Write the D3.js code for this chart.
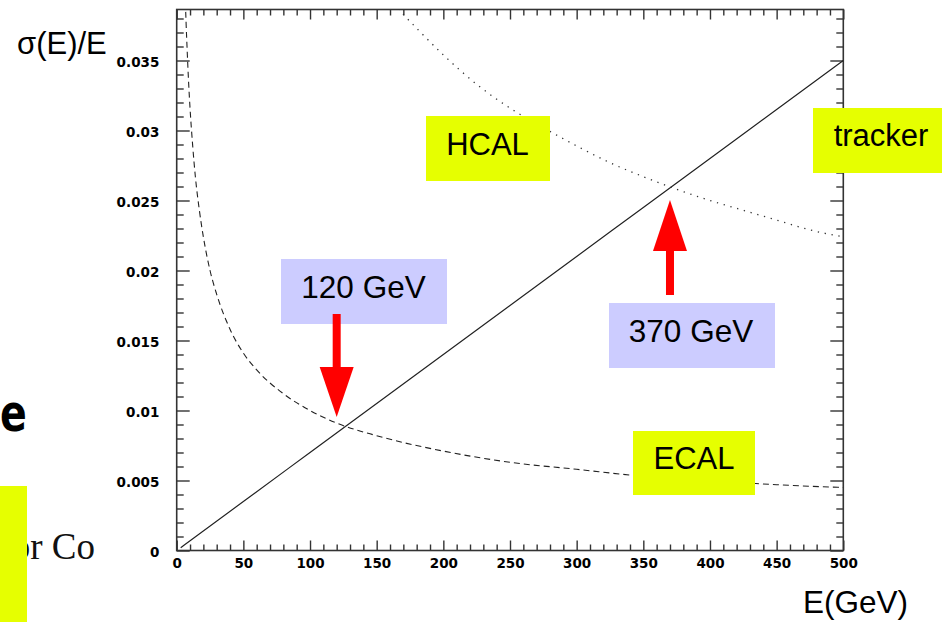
<!DOCTYPE html>
<html>
<head>
<meta charset="utf-8">
<script src="https://cdn.jsdelivr.net/npm/d3@7"></script>
<style>
  body { margin: 0; background: #fff; }
  svg { display: block; }
</style>
</head>
<body>
<svg id="chart" width="942" height="622"></svg>
<script>
// Energy resolution sigma(E)/E versus energy E (GeV) for each subdetector.
const trackerE   = [3, 50, 100, 150, 200, 250, 300, 350, 400, 450, 500];
const trackerRes = [0.0002, 0.0035, 0.0070, 0.0105, 0.0140, 0.0175, 0.0210, 0.0245, 0.0280, 0.0315, 0.0350];

const ecalE   = [6.5, 7, 8, 9, 10, 12, 14, 17, 20, 25, 30, 40, 50, 60, 80, 100, 120, 150, 200, 250, 300, 350, 400, 450, 500];
const ecalRes = [0.0392, 0.0378, 0.0354, 0.0333, 0.0316, 0.0289, 0.0267, 0.0243, 0.0224, 0.0200, 0.0183, 0.0158,
                 0.0141, 0.0129, 0.0112, 0.0100, 0.0091, 0.0082, 0.0071, 0.0063, 0.0058, 0.0053, 0.0050, 0.0047, 0.0045];

const hcalE   = [160, 170, 180, 200, 225, 250, 275, 300, 325, 350, 375, 400, 425, 450, 475, 500];
const hcalRes = [0.0395, 0.0383, 0.0373, 0.0354, 0.0333, 0.0316, 0.0302, 0.0289, 0.0277, 0.0267, 0.0258,
                 0.0250, 0.0243, 0.0236, 0.0229, 0.0224];

// Axis ticks
const xMajorTicks  = [0, 50, 100, 150, 200, 250, 300, 350, 400, 450, 500];
const xTickLabels  = ["0", "50", "100", "150", "200", "250", "300", "350", "400", "450", "500"];
const yMajorTicks  = [0, 0.005, 0.01, 0.015, 0.02, 0.025, 0.03, 0.035];
const yTickLabels  = ["0", "0.005", "0.01", "0.015", "0.02", "0.025", "0.03", "0.035"];
const xMinorStep = 10;
const yMinorStep = 0.001;

// Crossing energies marked with arrows
const crossingE      = [120, 370];
const crossingLabels = ["120 GeV", "370 GeV"];

// Detector name tags
const detectorLabels = ["HCAL", "tracker", "ECAL"];

const svg = d3.select("#chart");
const plot = { left: 176.7, right: 843.3, top: 9.5, bottom: 550.5 };
const yMax = (plot.bottom - plot.top) / 14000;

const x = d3.scaleLinear().domain([0, 500]).range([plot.left, plot.right]);
const y = d3.scaleLinear().domain([0, yMax]).range([plot.bottom, plot.top]);

const xMinor = d3.range(0, 500 + 1e-9, xMinorStep).filter(v => v % 50 !== 0);
const yMinor = d3.range(0, yMax, yMinorStep).map(v => +v.toFixed(4))
  .filter(v => Math.abs(v / 0.005 - Math.round(v / 0.005)) > 1e-6);

const tickFont = "'DejaVu Sans', sans-serif";
const frameColor = "#333";

// Left-side fragments of the surrounding page
svg.append("text")
  .attr("transform", "translate(0,431) scale(0.76,1)")
  .attr("font-family", "'DejaVu Sans', sans-serif").attr("font-weight", "bold")
  .attr("font-size", 52).attr("fill", "#000")
  .text("e");
svg.append("text")
  .attr("x", 95).attr("y", 559).attr("text-anchor", "end")
  .attr("font-family", "'Liberation Serif', 'Times New Roman', serif")
  .attr("font-size", 37).attr("fill", "#111")
  .text("or Co");
svg.append("rect")
  .attr("x", 0).attr("y", 486).attr("width", 27).attr("height", 136)
  .attr("fill", "#e6ff00");

// Axes: inward ticks on all four sides
function styleAxis(g) {
  g.select(".domain").remove();
  g.selectAll(".tick line").attr("stroke", frameColor).attr("stroke-width", 1.4);
}

svg.append("g").attr("transform", `translate(0,${plot.bottom})`)
  .call(d3.axisBottom(x).tickValues(xMinor).tickSizeInner(-6).tickSizeOuter(0).tickFormat(""))
  .call(styleAxis);
svg.append("g").attr("transform", `translate(0,${plot.bottom})`)
  .call(d3.axisBottom(x).tickValues(xMajorTicks).tickSizeInner(-10).tickSizeOuter(0).tickPadding(8)
    .tickFormat((d, i) => xTickLabels[i]))
  .call(styleAxis)
  .call(g => g.selectAll("text").attr("font-family", tickFont).attr("font-weight", "bold")
    .attr("font-size", 13.5).attr("fill", "#000"));

svg.append("g").attr("transform", `translate(0,${plot.top})`)
  .call(d3.axisTop(x).tickValues(xMinor).tickSizeInner(-6).tickSizeOuter(0).tickFormat(""))
  .call(styleAxis);
svg.append("g").attr("transform", `translate(0,${plot.top})`)
  .call(d3.axisTop(x).tickValues(xMajorTicks).tickSizeInner(-10).tickSizeOuter(0).tickFormat(""))
  .call(styleAxis);

svg.append("g").attr("transform", `translate(${plot.left},0)`)
  .call(d3.axisLeft(y).tickValues(yMinor).tickSizeInner(-7).tickSizeOuter(0).tickFormat(""))
  .call(styleAxis);
svg.append("g").attr("transform", `translate(${plot.left},0)`)
  .call(d3.axisLeft(y).tickValues(yMajorTicks).tickSizeInner(-13).tickSizeOuter(0).tickPadding(17.4)
    .tickFormat((d, i) => yTickLabels[i]))
  .call(styleAxis)
  .call(g => g.selectAll("text").attr("font-family", tickFont).attr("font-weight", "bold")
    .attr("font-size", 13.5).attr("fill", "#000").attr("dy", "0.47em"));

svg.append("g").attr("transform", `translate(${plot.right},0)`)
  .call(d3.axisRight(y).tickValues(yMinor).tickSizeInner(-7).tickSizeOuter(0).tickFormat(""))
  .call(styleAxis);
svg.append("g").attr("transform", `translate(${plot.right},0)`)
  .call(d3.axisRight(y).tickValues(yMajorTicks).tickSizeInner(-13).tickSizeOuter(0).tickFormat(""))
  .call(styleAxis);

// Frame
svg.append("rect")
  .attr("x", plot.left).attr("y", plot.top)
  .attr("width", plot.right - plot.left).attr("height", plot.bottom - plot.top)
  .attr("fill", "none").attr("stroke", frameColor).attr("stroke-width", 1.6);

// Resolution curves, clipped to the frame
svg.append("clipPath").attr("id", "plotClip")
  .append("rect")
  .attr("x", plot.left).attr("y", plot.top)
  .attr("width", plot.right - plot.left).attr("height", plot.bottom - plot.top);

const curves = svg.append("g").attr("clip-path", "url(#plotClip)");
const line = d3.line().x(d => x(d[0])).y(d => y(d[1])).curve(d3.curveMonotoneX);

curves.append("path")
  .datum(d3.zip(trackerE, trackerRes))
  .attr("d", line)
  .attr("fill", "none").attr("stroke", "#222").attr("stroke-width", 1.2);

curves.append("path")
  .datum(d3.zip(ecalE, ecalRes))
  .attr("d", line)
  .attr("fill", "none").attr("stroke", "#222").attr("stroke-width", 1.1)
  .attr("stroke-dasharray", "6,4");

curves.append("path")
  .datum(d3.zip(hcalE, hcalRes))
  .attr("d", line)
  .attr("fill", "none").attr("stroke", "#333").attr("stroke-width", 1.3)
  .attr("stroke-dasharray", "1.3,5.7");

// Axis titles
const labelFont = "'Liberation Sans', Arial, sans-serif";
svg.append("text")
  .attr("x", 17).attr("y", 54)
  .attr("font-family", labelFont).attr("font-size", 31).attr("fill", "#000")
  .text("σ(E)/E");
svg.append("text")
  .attr("x", 803).attr("y", 613)
  .attr("font-family", labelFont).attr("font-size", 31.5).attr("fill", "#000")
  .text("E(GeV)");

// Tags and crossing annotations
const tagBoxes = [
  { x0: 426, y0: 116, x1: 550, y1: 181, tx: 487.5, ty: 155 },
  { x0: 813, y0: 108, x1: 942, y1: 173, tx: 881,   ty: 146 },
  { x0: 633, y0: 431, x1: 755, y1: 495, tx: 694,   ty: 469 }
];
const crossBoxes = [
  { x0: 281, y0: 259, x1: 447, y1: 324, tx: 363.5, ty: 298, shaft: [314, 367], tip: 417 },
  { x0: 609, y0: 303, x1: 775, y1: 368, tx: 691,   ty: 342, shaft: [295, 251], tip: 200 }
];

const tags = svg.append("g");
detectorLabels.forEach((name, i) => {
  const b = tagBoxes[i];
  tags.append("rect")
    .attr("x", b.x0).attr("y", b.y0).attr("width", b.x1 - b.x0).attr("height", b.y1 - b.y0)
    .attr("fill", "#e6ff00");
  tags.append("text")
    .attr("x", b.tx).attr("y", b.ty).attr("text-anchor", "middle")
    .attr("font-family", labelFont).attr("font-size", 31).attr("fill", "#000")
    .text(name);
});

const ann = svg.append("g");
crossingE.forEach((e, i) => {
  const b = crossBoxes[i];
  const cx = x(e);
  const [s0, s1] = b.shaft;
  ann.append("rect")
    .attr("x", b.x0).attr("y", b.y0).attr("width", b.x1 - b.x0).attr("height", b.y1 - b.y0)
    .attr("fill", "#ccccff");
  ann.append("text")
    .attr("x", b.tx).attr("y", b.ty).attr("text-anchor", "middle")
    .attr("font-family", labelFont).attr("font-size", 31.5).attr("fill", "#000")
    .text(crossingLabels[i]);
  ann.append("rect")
    .attr("x", cx - 4).attr("y", Math.min(s0, s1)).attr("width", 8).attr("height", Math.abs(s1 - s0))
    .attr("fill", "#ff0000");
  ann.append("path")
    .attr("d", `M${cx - 17},${s1} L${cx + 17},${s1} L${cx},${b.tip} Z`)
    .attr("fill", "#ff0000");
});
</script>
</body>
</html>
